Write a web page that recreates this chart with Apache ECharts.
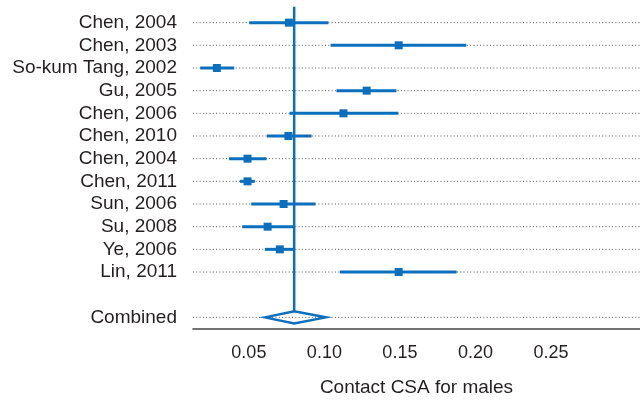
<!DOCTYPE html>
<html>
<head>
<meta charset="utf-8">
<script src="https://cdn.jsdelivr.net/npm/echarts@6/dist/echarts.min.js"></script>
<style>html,body{margin:0;padding:0;background:#fff}#c{width:640px;height:401px}</style>
</head>
<body>
<div id="c"></div>
<script>
var categories = ['Chen, 2004','Chen, 2003','So-kum Tang, 2002','Gu, 2005','Chen, 2006','Chen, 2010','Chen, 2004','Chen, 2011','Sun, 2006','Su, 2008','Ye, 2006','Lin, 2011','','Combined'];
var estimates = [0.0765,0.1492,0.0288,0.1280,0.1126,0.0762,0.0491,0.0491,0.0730,0.0624,0.0705,0.1492];
var lowerCI   = [0.0502,0.1041,0.0178,0.1080,0.0769,0.0619,0.0368,0.0440,0.0515,0.0456,0.0606,0.1102];
var upperCI   = [0.1027,0.1940,0.0403,0.1477,0.1490,0.0915,0.0617,0.0540,0.0941,0.0798,0.0798,0.1876];
var combinedEst = 0.0800;
var combinedLower = 0.0606;
var combinedUpper = 0.1009;
var tickValues = [0.05,0.10,0.15,0.20,0.25];
var xTitle = 'Contact CSA for males';

var BLUE = '#0b6fbd';
var TEXT = '#231f20';
var FONT = 'Liberation Sans, Arial, sans-serif';

var studyData = estimates.map(function(e,i){return [lowerCI[i], upperCI[i], e, i];});
var combinedIndex = categories.indexOf('Combined');
var dottedRows = [];
categories.forEach(function(c,i){ if (c !== '') dottedRows.push(i); });

var chart = echarts.init(document.getElementById('c'), null, {renderer:'canvas'});
chart.setOption({
  animation:false,
  grid:{left:193,right:0,top:11.3,bottom:72.3,containLabel:false,outerBoundsMode:'none'},
  xAxis:{
    type:'value', min:0.013, max:0.309,
    axisLine:{show:true,lineStyle:{color:'#444',width:1.5}},
    axisTick:{show:false},
    splitLine:{show:false},
    axisLabel:{customValues:tickValues,formatter:function(v){return v.toFixed(2);},fontSize:18,color:TEXT,margin:15,fontFamily:FONT},
    name:xTitle, nameLocation:'middle', nameGap:50,
    nameTextStyle:{fontSize:19,color:TEXT,fontFamily:FONT}
  },
  yAxis:{
    type:'category', inverse:true, data:categories,
    axisLine:{show:false}, axisTick:{show:false}, splitLine:{show:false},
    axisLabel:{interval:0,fontSize:19,color:TEXT,margin:16,fontFamily:FONT}
  },
  series:[
    {
      type:'custom', z:1, silent:true,
      data:dottedRows.map(function(i){return [0, i];}),
      renderItem:function(params, api){
        var p = api.coord([api.value(0), api.value(1)]);
        var cs = params.coordSys;
        return {type:'line', shape:{x1:cs.x, y1:p[1], x2:cs.x+cs.width, y2:p[1]},
          style:{stroke:'#555', lineWidth:1, lineDash:[1,2.3]}};
      }
    },
    {
      type:'custom', z:3, silent:true,
      data:studyData,
      renderItem:function(params, api){
        var a = api.coord([api.value(0), api.value(3)]);
        var b = api.coord([api.value(1), api.value(3)]);
        var m = api.coord([api.value(2), api.value(3)]);
        var s = 8;
        return {type:'group', children:[
          {type:'line', shape:{x1:a[0],y1:a[1],x2:b[0],y2:b[1]}, style:{stroke:BLUE,lineWidth:3}},
          {type:'rect', shape:{x:m[0]-s/2,y:m[1]-s/2,width:s,height:s}, style:{fill:BLUE}}
        ]};
      }
    },
    {
      type:'custom', z:2, silent:true,
      data:[[combinedLower, combinedUpper, combinedEst, combinedIndex]],
      renderItem:function(params, api){
        var a = api.coord([api.value(0), api.value(3)]);
        var b = api.coord([api.value(1), api.value(3)]);
        var m = api.coord([api.value(2), api.value(3)]);
        var top = api.coord([api.value(2), 0]);
        var h = 6;
        return {type:'group', children:[
          {type:'line', shape:{x1:m[0],y1:top[1]-16,x2:m[0],y2:m[1]-h}, style:{stroke:BLUE,lineWidth:2.5}},
          {type:'polygon', shape:{points:[[a[0],a[1]],[m[0],m[1]-h],[b[0],b[1]],[m[0],m[1]+h]]},
            style:{fill:'none',stroke:BLUE,lineWidth:2.5}}
        ]};
      }
    }
  ]
});
</script>
</body>
</html>
